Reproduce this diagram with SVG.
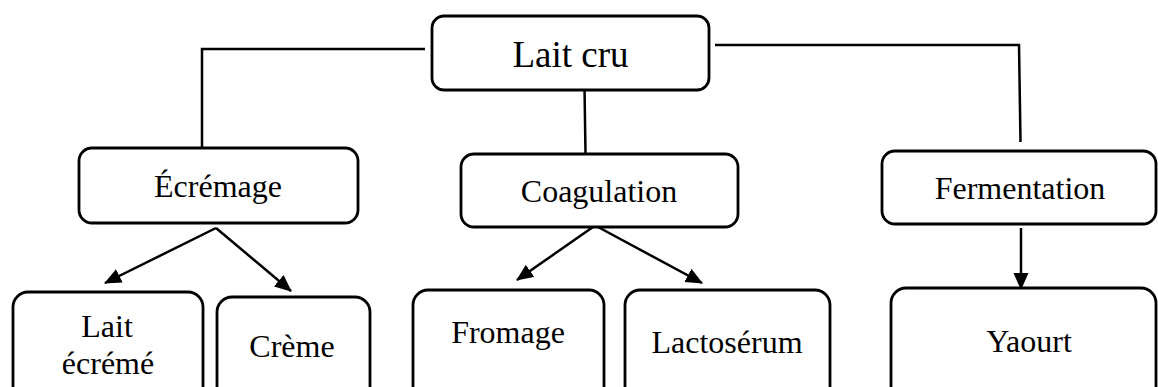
<svg xmlns="http://www.w3.org/2000/svg" width="1158" height="387" viewBox="0 0 1158 387">
<style>
.box{fill:#fff;stroke:#000;stroke-width:2.8}
.t{font-family:"Liberation Serif","Times New Roman",serif;font-size:32px;fill:#000;text-anchor:middle}
.big{font-size:37px}
.ln{fill:none;stroke:#000;stroke-width:2.5}
.ar{fill:none;stroke:#000;stroke-width:2.5;marker-end:url(#ah)}
</style>
<defs>
<marker id="ah" markerUnits="userSpaceOnUse" markerWidth="18" markerHeight="16" refX="16" refY="7.5" orient="auto">
<path d="M0,0 L17,7.5 L0,15 z" fill="#000"/>
</marker>
</defs>
<rect width="1158" height="387" fill="#fff"/>
<g id="connectors">
<polyline class="ln" points="425,49 202,49 202,149"/>
<polyline class="ln" points="715,45 1019,45 1020.5,142"/>
<line class="ln" x1="584.5" y1="87" x2="585.5" y2="154"/>
<line class="ar" x1="216" y1="228" x2="105" y2="283"/>
<line class="ar" x1="216" y1="228" x2="291" y2="291"/>
<line class="ar" x1="593" y1="227" x2="517" y2="280"/>
<line class="ar" x1="598" y1="227" x2="702" y2="283"/>
<line class="ar" x1="1021" y1="228" x2="1021" y2="289"/>
</g>
<g id="lait-cru">
<rect class="box" x="432" y="16" width="277" height="74" rx="12"/>
<text class="t big" x="570.5" y="67">Lait cru</text>
</g>
<g id="ecremage">
<rect class="box" x="79" y="148" width="279" height="75" rx="13"/>
<text class="t" x="218" y="197">Écrémage</text>
</g>
<g id="coagulation">
<rect class="box" x="461" y="154" width="277" height="73" rx="13"/>
<text class="t" x="599" y="202">Coagulation</text>
</g>
<g id="fermentation">
<rect class="box" x="882" y="151" width="274" height="73" rx="13"/>
<text class="t" x="1020" y="199">Fermentation</text>
</g>
<g id="lait-ecreme">
<rect class="box" x="13" y="292" width="190" height="115" rx="15"/>
<text class="t" x="107" y="337">Lait</text>
<text class="t" x="108" y="374">écrémé</text>
</g>
<g id="creme">
<rect class="box" x="217" y="297" width="153" height="115" rx="15"/>
<text class="t" x="292" y="357">Crème</text>
</g>
<g id="fromage">
<rect class="box" x="413" y="290" width="191" height="115" rx="15"/>
<text class="t" x="508" y="343">Fromage</text>
</g>
<g id="lactoserum">
<rect class="box" x="625" y="290" width="205" height="115" rx="15"/>
<text class="t" x="727" y="353">Lactosérum</text>
</g>
<g id="yaourt">
<rect class="box" x="891" y="288" width="265" height="115" rx="15"/>
<text class="t" x="1029" y="352">Yaourt</text>
</g>
</svg>
